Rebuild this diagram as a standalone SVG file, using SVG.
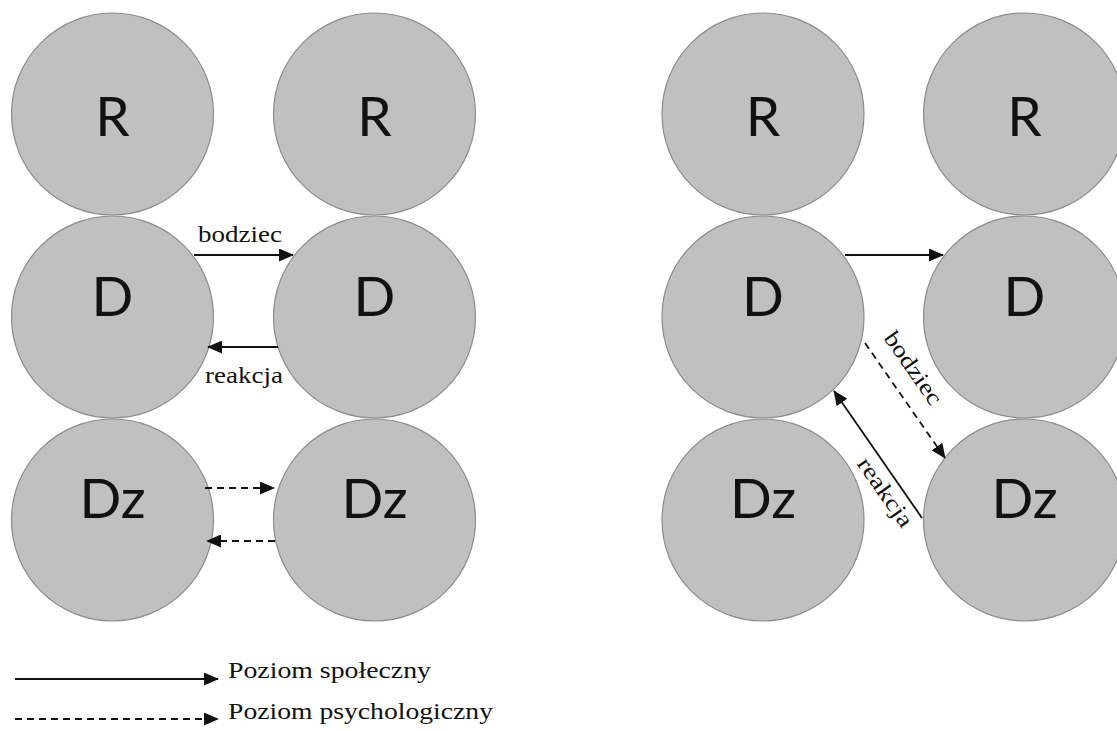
<svg xmlns="http://www.w3.org/2000/svg" width="1117" height="731" viewBox="0 0 1117 731">
<style>
.node circle{fill:#c0c0c0;stroke:#8c8c8c;stroke-width:1.2}
.node text{font-family:Lato,"Open Sans","Liberation Sans",sans-serif;font-size:55px;fill:#111;text-anchor:middle}
.lbl{font-family:"Liberation Serif",serif;font-size:23px;fill:#111}
.solid{stroke:#111;stroke-width:1.8;fill:none}
.dash{stroke:#111;stroke-width:1.8;fill:none;stroke-dasharray:7 5}
</style>
<defs>
<marker id="ah" markerWidth="15" markerHeight="13" refX="14" refY="6.5" orient="auto" markerUnits="userSpaceOnUse">
<path d="M0,0 L15,6.5 L0,13 Z" fill="#111"/>
</marker>
</defs>
<rect width="1117" height="731" fill="#fff"/>
<g id="L-R1" class="node"><circle cx="112.5" cy="114" r="101"/><text x="112.5" y="136">R</text></g>
<g id="L-R2" class="node"><circle cx="374.5" cy="114" r="101"/><text x="374.5" y="136">R</text></g>
<g id="L-D1" class="node"><circle cx="112.5" cy="317" r="101"/><text x="112.5" y="316">D</text></g>
<g id="L-D2" class="node"><circle cx="374.5" cy="317" r="101"/><text x="374.5" y="316">D</text></g>
<g id="L-Dz1" class="node"><circle cx="112.5" cy="520" r="101"/><text x="112.5" y="518">Dz</text></g>
<g id="L-Dz2" class="node"><circle cx="374.5" cy="520" r="101"/><text x="374.5" y="518">Dz</text></g>
<g id="R-R1" class="node"><circle cx="763" cy="114" r="101"/><text x="763" y="136">R</text></g>
<g id="R-R2" class="node"><circle cx="1024.5" cy="114" r="101"/><text x="1024.5" y="136">R</text></g>
<g id="R-D1" class="node"><circle cx="763" cy="317" r="101"/><text x="763" y="316">D</text></g>
<g id="R-D2" class="node"><circle cx="1024.5" cy="317" r="101"/><text x="1024.5" y="316">D</text></g>
<g id="R-Dz1" class="node"><circle cx="763" cy="520" r="101"/><text x="763" y="518">Dz</text></g>
<g id="R-Dz2" class="node"><circle cx="1024.5" cy="520" r="101"/><text x="1024.5" y="518">Dz</text></g>
<g id="connectors">
<line class="solid" x1="194" y1="255" x2="293" y2="255" marker-end="url(#ah)"/>
<line class="solid" x1="278" y1="347" x2="208" y2="347" marker-end="url(#ah)"/>
<line class="dash" x1="205" y1="488" x2="274" y2="488" marker-end="url(#ah)"/>
<line class="dash" x1="275" y1="541" x2="207" y2="541" marker-end="url(#ah)"/>
<line class="solid" x1="845" y1="255" x2="943" y2="255" marker-end="url(#ah)"/>
<line class="dash" x1="865" y1="343" x2="945" y2="458" marker-end="url(#ah)"/>
<line class="solid" x1="922" y1="518" x2="834" y2="391" marker-end="url(#ah)"/>
<line class="solid" x1="15" y1="679" x2="218" y2="679" marker-end="url(#ah)"/>
<line class="dash" x1="15" y1="719" x2="218" y2="719" marker-end="url(#ah)"/>
</g>
<g id="labels">
<text class="lbl" x="198" y="242" textLength="84" lengthAdjust="spacingAndGlyphs">bodziec</text>
<text class="lbl" x="205" y="383" textLength="78" lengthAdjust="spacingAndGlyphs">reakcja</text>
<text class="lbl" transform="translate(912 369) rotate(55)" x="0" y="6" text-anchor="middle" textLength="84" lengthAdjust="spacingAndGlyphs">bodziec</text>
<text class="lbl" transform="translate(884 493) rotate(55)" x="0" y="6" text-anchor="middle" textLength="80" lengthAdjust="spacingAndGlyphs">reakcja</text>
<text class="lbl" x="228" y="678" textLength="203" lengthAdjust="spacingAndGlyphs">Poziom społeczny</text>
<text class="lbl" x="228" y="719" textLength="265" lengthAdjust="spacingAndGlyphs">Poziom psychologiczny</text>
</g>
</svg>
